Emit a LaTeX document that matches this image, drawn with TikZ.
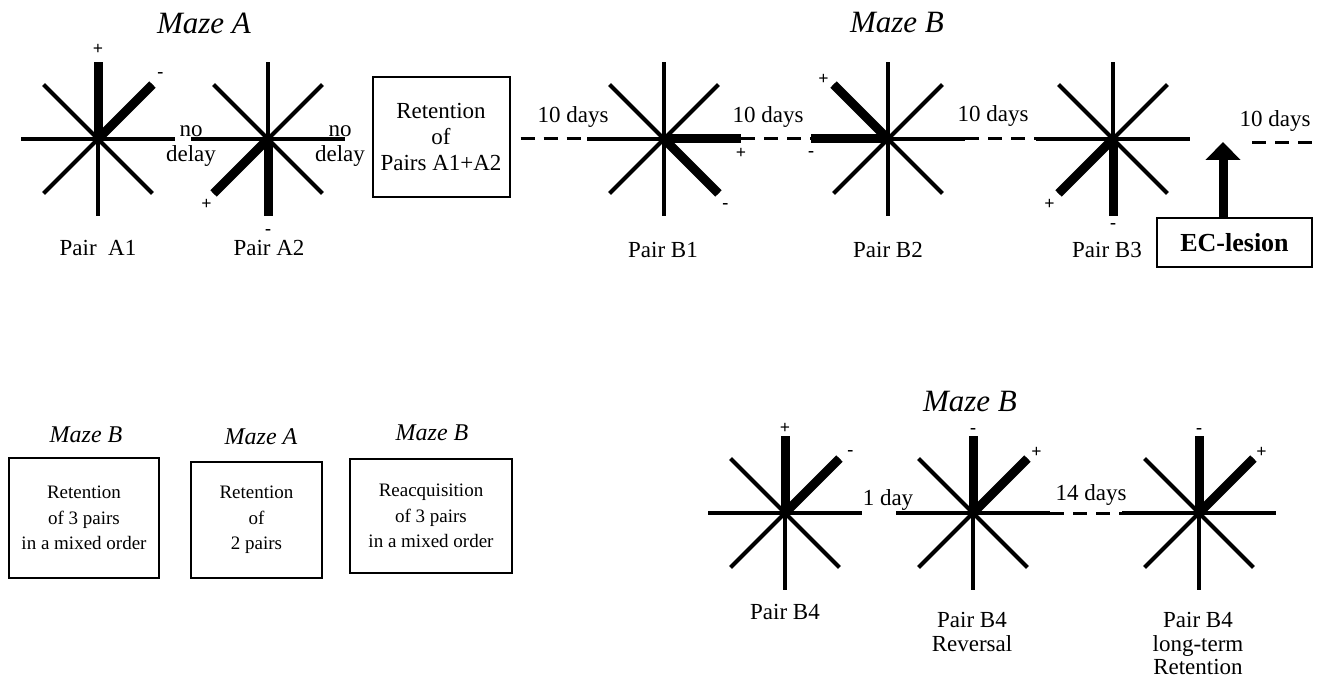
\documentclass[tikz,border=0pt]{standalone}
\usepackage{fontspec}
\setmainfont{Liberation Serif}
\usetikzlibrary{arrows.meta,positioning}

\begin{document}
\begin{tikzpicture}[
  x=0.5pt, y=-0.5pt,
  font=\fontsize{11.5}{12.5}\selectfont,
  maze/.style={circle,minimum size=77pt,inner sep=0pt,outer sep=0pt},
  arm/.style={line width=2pt},
  hot/.style={line width=4.5pt},
  sign/.style={font=\fontsize{9}{10}\selectfont\bfseries,inner sep=0pt},
  title/.style={font=\fontsize{15.5}{18}\selectfont\itshape},
  subtitle/.style={font=\fontsize{12}{14}\selectfont\itshape},
  gap/.style={line width=1.5pt,dash pattern=on 7pt off 4.5pt},
  txt/.style={inner sep=0pt,align=center},
  box/.style={draw,line width=1pt,align=center,inner sep=2pt,
              font=\fontsize{9.5}{12.75}\selectfont},
  lift/.style={line width=4.5pt,-{Triangle[length=9pt,width=17pt]}},
]
\useasboundingbox (0,0) rectangle (1322,678);

% top row
\node[maze] (a1) at (98,139) {};
\node[maze] (a2) at (268,139) {};
\node[box,minimum width=68.5pt,minimum height=60pt,
      font=\fontsize{11.5}{13}\selectfont] (ret) at (441,137) {Retention\\of\\Pairs A1+A2};
\node[maze] (b1) at (664,139) {};
\node[maze] (b2) at (888,139) {};
\node[maze] (b3) at (1113,139) {};
\node[box,minimum width=77.5pt,minimum height=24.5pt,
      font=\fontsize{13}{15}\selectfont\bfseries] (ec) at (1234.5,242.5) {EC-lesion};
\coordinate (cut) at (1223,142);
\coordinate (t0) at (1252,143);
\coordinate (t1) at (1320,143);

% bottom row
\node[box,minimum width=75pt,minimum height=60pt] (r1) at (84,518) {Retention\\of 3 pairs\\in a mixed order};
\node[box,minimum width=65.5pt,minimum height=58pt] (r2) at (256.5,520) {Retention\\of\\2 pairs};
\node[box,minimum width=81pt,minimum height=57pt] (r3) at (431,516) {Reacquisition\\of 3 pairs\\in a mixed order};
\node[maze] (b4) at (785,513) {};
\node[maze] (b4r) at (973,513) {};
\node[maze] (b4l) at (1199,513) {};

% arms
\foreach \m in {a1,a2,b1,b2,b3,b4,b4r,b4l}
  \foreach \a in {north,north east,east,south east,south,south west,west,north west}
    \draw[arm] (\m.center) -- (\m.\a);
\foreach \m/\a in {a1/north,a1/north east,a2/south west,a2/south,b1/east,b1/south east,
                   b2/west,b2/north west,b3/south west,b3/south,b4/north,b4/north east,
                   b4r/north,b4r/north east,b4l/north,b4l/north east}
  \draw[hot] (\m.center) -- (\m.\a);

% + and -
\node[sign] (a1p) at ([yshift=6.5pt]a1.north) {+};
\node[sign] (a1m) at ([shift={(4pt,5pt)}]a1.north east) {-};
\node[sign] (a2p) at ([shift={(-3.5pt,-5.5pt)}]a2.south west) {+};
\node[sign] (a2m) at ([yshift=-8pt]a2.south) {-};
\node[sign] (b1p) at ([yshift=-7pt]b1.east) {+};
\node[sign] (b1m) at ([shift={(3.5pt,-6.5pt)}]b1.south east) {-};
\node[sign] (b2m) at ([yshift=-7.5pt]b2.west) {-};
\node[sign] (b2p) at ([shift={(-5pt,2.5pt)}]b2.north west) {+};
\node[sign] (b3p) at ([shift={(-4.5pt,-5.5pt)}]b3.south west) {+};
\node[sign] (b3m) at ([yshift=-5pt]b3.south) {-};
\node[sign] (b4p) at ([yshift=4pt]b4.north) {+};
\node[sign] (b4m) at ([shift={(5.5pt,3pt)}]b4.north east) {-};
\node[sign] (b4rm) at ([yshift=2.5pt]b4r.north) {-};
\node[sign] (b4rp) at ([shift={(4.5pt,3pt)}]b4r.north east) {+};
\node[sign] (b4lm) at ([yshift=2.5pt]b4l.north) {-};
\node[sign] (b4lp) at ([shift={(4pt,3pt)}]b4l.north east) {+};

% titles
\node[title] (ma) at (204,23) {Maze A};
\node[title] (mb) at (897,23) {Maze B};
\node[subtitle] (mb1) at (86,435) {Maze B};
\node[subtitle] (ma2) at (261,437) {Maze A};
\node[subtitle] (mb3) at (432,433) {Maze B};
\node[title] (mb4) at (970,402) {Maze B};

% delays
\node[txt] (nd1) at (191,146) {no\\delay};
\node[txt] (nd2) at (340,146) {no\\delay};
\node (d1) at (573,117) {10 days};
\node (d2) at (768,117) {10 days};
\node (d3) at (993,116) {10 days};
\node (d4) at (1275,121) {10 days};
\node (d5) at (888,500) {1 day};
\node (d6) at (1091,495) {14 days};

% pair names
\node (la1) at (98,248) {Pair~~A1};
\node (la2) at (269,248) {Pair A2};
\node (lb1) at (663,250) {Pair B1};
\node (lb2) at (888,250) {Pair B2};
\node (lb3) at (1107,250) {Pair B3};
\node (lb4) at (785,612) {Pair B4};
\node[txt,anchor=north,font=\fontsize{11.5}{11.75}\selectfont] (lb4r) at (972,612) {Pair B4\\Reversal};
\node[txt,anchor=north,font=\fontsize{11.5}{11.75}\selectfont] (lb4l) at (1198,612) {Pair B4\\long-term\\Retention};

% connectors
\draw[gap,shorten <=5pt] (ret.east |- b1) -- (b1.west);
\draw[gap] (b1.east) -- (b2.west);
\draw[gap] (b2.east) -- (b3.west);
\draw[gap] (t0) -- (t1);
\draw[gap] (b4r.east) -- (b4l.west);
\draw[lift] (ec.north -| cut) -- (cut);
\end{tikzpicture}
\end{document}
